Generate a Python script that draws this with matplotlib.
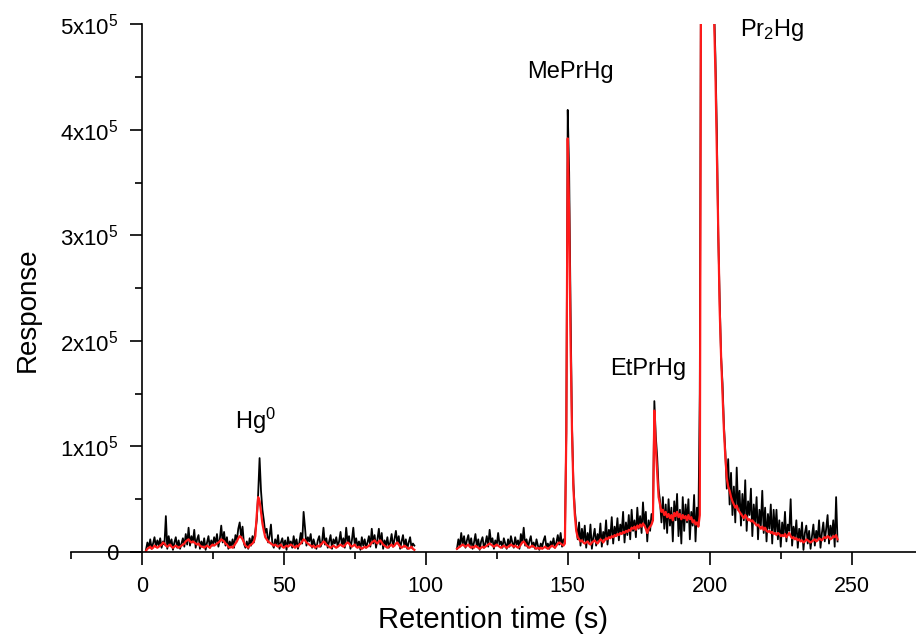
import numpy as np
import matplotlib
matplotlib.use("Agg")
import matplotlib.pyplot as plt
from matplotlib.ticker import FixedLocator, FixedFormatter, MultipleLocator

plt.rcParams['font.family'] = ['Liberation Sans', 'DejaVu Sans']
plt.rcParams['mathtext.fontset'] = 'custom'
plt.rcParams['mathtext.rm'] = 'Liberation Sans'
plt.rcParams['mathtext.it'] = 'Liberation Sans:italic'
plt.rcParams['mathtext.bf'] = 'Liberation Sans:bold'

# ---- data (response in units of 10^3), sampled every 0.5 s ----
seg1_start = 1.5     # s, first segment 1.5 .. 96.0 s
seg2_start = 111.0   # s, second segment 111.0 .. 245.0 s
step = 0.5

black_seg1 = [
    2, 9, 4, 12, 3, 8, 14, 5, 11, 6,
    13, 4, 10, 7, 34, 3, 15, 6, 12, 2,
    9, 14, 4, 11, 3, 8, 13, 5, 17, 7,
    23, 6, 15, 9, 21, 4, 12, 16, 3, 10,
    5, 13, 2, 9, 15, 4, 11, 6, 14, 8,
    17, 5, 12, 25, 9, 19, 6, 14, 3, 10,
    5, 12, 4, 16, 11, 22, 28, 14, 24, 8,
    4, 10, 3, 13, 6, 15, 9, 20, 30, 55,
    89, 58, 40, 30, 18, 22, 9, 15, 26, 8,
    4, 12, 6, 16, 3, 9, 13, 5, 11, 2,
    14, 7, 10, 4, 15, 6, 12, 3, 9, 18,
    8, 38, 23, 6, 14, 10, 17, 4, 12, 7,
    3, 11, 15, 5, 9, 23, 7, 13, 4, 10,
    16, 3, 12, 8, 14, 5, 10, 19, 6, 13,
    4, 23, 9, 15, 3, 11, 23, 7, 13, 5,
    10, 2, 14, 6, 12, 4, 9, 15, 5, 22,
    8, 16, 4, 12, 22, 7, 18, 3, 11, 6,
    14, 4, 9, 17, 5, 12, 20, 8, 15, 3,
    10, 16, 5, 12, 3, 9, 14, 4, 8, 6,
]

red_seg1 = [
    1, 3, 4, 5, 3, 4, 6, 5, 4, 5,
    6, 7, 9, 8, 6, 5, 6, 7, 5, 4,
    5, 6, 5, 4, 5, 6, 7, 8, 10, 11,
    12, 10, 9, 10, 9, 8, 7, 8, 6, 5,
    5, 4, 5, 6, 5, 4, 6, 7, 6, 7,
    8, 9, 10, 12, 11, 10, 8, 7, 5, 4,
    5, 4, 6, 8, 10, 13, 15, 14, 12, 9,
    6, 5, 4, 6, 7, 8, 10, 15, 35, 52,
    48, 38, 27, 20, 14, 12, 10, 9, 8, 7,
    6, 7, 6, 5, 6, 7, 5, 4, 5, 6,
    5, 6, 7, 6, 5, 4, 6, 5, 7, 8,
    10, 12, 11, 9, 8, 7, 6, 5, 6, 4,
    5, 6, 5, 7, 8, 10, 9, 7, 6, 5,
    4, 5, 6, 5, 4, 5, 6, 7, 6, 5,
    6, 8, 9, 8, 6, 5, 6, 7, 5, 4,
    5, 4, 3, 4, 5, 4, 5, 6, 7, 9,
    10, 11, 9, 8, 10, 11, 9, 7, 6, 5,
    4, 5, 6, 7, 5, 6, 8, 9, 7, 5,
    4, 5, 6, 5, 4, 3, 4, 5, 3, 2,
]

black_seg2 = [
    3, 12, 5, 18, 7, 15, 4, 11, 16, 6,
    13, 3, 9, 17, 5, 12, 2, 10, 14, 4,
    8, 15, 5, 21, 9, 13, 3, 11, 6, 18,
    7, 10, 4, 13, 8, 3, 12, 5, 15, 9,
    4, 14, 7, 11, 3, 17, 9, 23, 6, 12,
    4, 10, 15, 5, 9, 3, 12, 6, 2, 8,
    5, 11, 15, 4, 8, 3, 10, 6, 13, 4,
    9, 16, 7, 18, 5, 12, 10, 115, 419, 360,
    230, 120, 65, 40, 25, 12, 28, 6, 22, 10,
    25, 4, 18, 9, 26, 3, 14, 22, 6, 17,
    10, 27, 5, 19, 12, 30, 7, 21, 14, 33,
    8, 24, 15, 32, 11, 26, 18, 38, 9, 28,
    16, 35, 12, 40, 20, 30, 14, 42, 22, 34,
    18, 47, 25, 38, 10, 30, 20, 36, 30, 143,
    110, 90, 60, 48, 28, 52, 22, 45, 18, 50,
    25, 42, 10, 48, 30, 55, 15, 40, 8, 52,
    20, 45, 28, 50, 12, 38, 25, 54, 10, 42,
    25, 150, 640, 780, 850, 860, 830, 780, 720, 650,
    590, 520, 470, 400, 300, 240, 185, 160, 120, 95,
    60, 88, 45, 75, 35, 62, 28, 80, 40, 58,
    25, 55, 30, 68, 20, 48, 35, 60, 15, 45,
    28, 52, 12, 40, 25, 58, 18, 42, 10, 36,
    22, 45, 8, 40, 18, 40, 12, 30, 5, 28,
    15, 38, 10, 26, 20, 50, 6, 24, 14, 30,
    4, 22, 12, 28, 2, 18, 25, 8, 20, 3,
    15, 26, 6, 20, 12, 30, 4, 18, 28, 10,
    22, 35, 8, 25, 15, 30, 5, 52, 10,
]

red_seg2 = [
    3, 4, 5, 6, 7, 6, 5, 6, 7, 5,
    4, 5, 4, 6, 5, 4, 3, 4, 5, 4,
    5, 6, 7, 8, 7, 6, 5, 6, 7, 6,
    5, 4, 5, 6, 5, 4, 5, 6, 7, 6,
    5, 6, 5, 4, 5, 7, 9, 10, 8, 6,
    5, 4, 5, 6, 5, 4, 3, 4, 3, 4,
    3, 4, 5, 4, 3, 4, 5, 6, 5, 4,
    6, 8, 9, 8, 7, 6, 8, 112, 392, 320,
    200, 115, 60, 35, 20, 14, 12, 10, 11, 9,
    8, 9, 10, 8, 7, 9, 10, 11, 9, 8,
    10, 12, 11, 9, 11, 13, 12, 14, 13, 15,
    14, 16, 15, 17, 16, 18, 17, 19, 18, 20,
    19, 21, 20, 23, 22, 24, 21, 25, 23, 26,
    24, 27, 25, 22, 18, 22, 24, 26, 30, 134,
    100, 75, 52, 45, 38, 40, 35, 38, 33, 36,
    32, 35, 30, 37, 34, 38, 33, 36, 31, 35,
    32, 34, 30, 35, 31, 33, 28, 30, 26, 28,
    24, 35, 640, 780, 850, 860, 830, 780, 720, 650,
    580, 510, 455, 380, 300, 230, 185, 150, 115, 90,
    70, 62, 58, 52, 48, 45, 42, 44, 40, 38,
    36, 34, 32, 35, 33, 30, 31, 29, 30, 28,
    27, 25, 26, 24, 22, 24, 21, 23, 20, 19,
    20, 18, 19, 17, 18, 16, 18, 17, 15, 16,
    15, 17, 14, 16, 18, 15, 13, 14, 12, 13,
    11, 12, 10, 11, 9, 10, 12, 11, 10, 9,
    10, 11, 12, 10, 11, 13, 12, 11, 13, 14,
    13, 15, 14, 12, 13, 15, 14, 16, 12,
]

x_ticks = [0, 50, 100, 150, 200, 250]
y_ticks = [0, 100, 200, 300, 400, 500]
y_tick_labels = ['0', '1x10$^5$', '2x10$^5$', '3x10$^5$', '4x10$^5$', '5x10$^5$']

peak_labels = ['Hg$^0$', 'MePrHg', 'EtPrHg', 'Pr$_2$Hg']
peak_label_x = [40.0, 150.8, 178.3, 222.0]
peak_label_y = [117, 449, 168, 489]

# ---- figure ----
fig = plt.figure(figsize=(9.16, 6.39), dpi=100)
ax = fig.add_axes([0.0772, 0.1362, 0.9224, 0.8255])

t1 = seg1_start + step * np.arange(len(black_seg1))
t2 = seg2_start + step * np.arange(len(black_seg2))
r1 = seg1_start + step * np.arange(len(red_seg1))
r2 = seg2_start + step * np.arange(len(red_seg2))

ax.plot(t1, black_seg1, color='black', lw=1.3)
ax.plot(t2, black_seg2, color='black', lw=1.3)
ax.plot(r1, red_seg1, color='#ff1a1a', lw=1.6)
ax.plot(r2, red_seg2, color='#ff1a1a', lw=1.6)

ax.set_xlim(-25, 272.5)
ax.set_ylim(0, 500)

for s in ['top', 'right']:
    ax.spines[s].set_visible(False)
ax.spines['left'].set_position(('data', 0))
ax.spines['left'].set_linewidth(1.2)
ax.spines['bottom'].set_linewidth(1.2)

ax.xaxis.set_major_locator(FixedLocator(x_ticks))
ax.xaxis.set_minor_locator(MultipleLocator(25))
ax.yaxis.set_major_locator(FixedLocator(y_ticks))
ax.yaxis.set_major_formatter(FixedFormatter(y_tick_labels))
ax.yaxis.set_minor_locator(MultipleLocator(50))

ax.tick_params(axis='both', which='major', direction='out', length=9, width=1.2, pad=8)
ax.tick_params(axis='x', which='major', labelsize=15.5)
ax.tick_params(axis='y', which='major', labelsize=16)
ax.tick_params(axis='both', which='minor', direction='out', length=5, width=1.2)

ax.set_xlabel('Retention time (s)', fontsize=21, labelpad=7)
ax.set_ylabel('Response', fontsize=20)
ax.yaxis.set_label_coords(-0.036, 0.46)

for lab, lx, ly in zip(peak_labels, peak_label_x, peak_label_y):
    ax.text(lx, ly, lab, fontsize=17, ha='center', va='baseline')

fig.savefig('out.png', dpi=100)
